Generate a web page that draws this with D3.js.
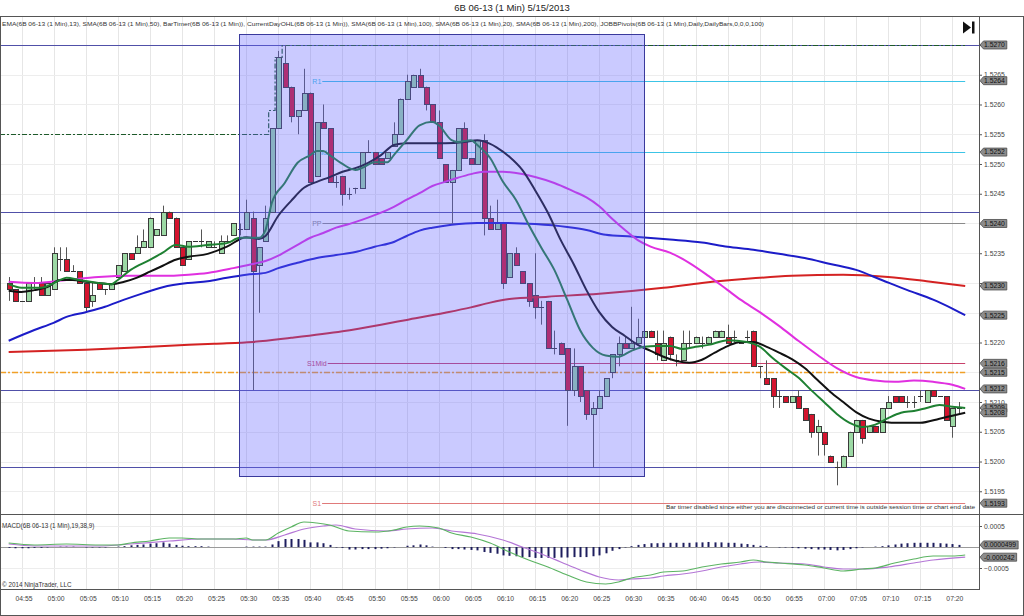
<!DOCTYPE html>
<html><head><meta charset="utf-8">
<script src="https://cdn.jsdelivr.net/npm/d3@7"></script>
<style>
body{margin:0;background:#fff}
svg{display:block}
text{font-family:"Liberation Sans",Arial,sans-serif}
</style>
</head><body>
<svg id="c" width="1024" height="616"></svg>
<script>
// ---------------- DATA ----------------
const chartTitle = "6B 06-13 (1 Min)  5/15/2013";
const indicatorLabel = "EMA(6B 06-13 (1 Min),13), SMA(6B 06-13 (1 Min),50), BarTimer(6B 06-13 (1 Min)), CurrentDayOHL(6B 06-13 (1 Min)), SMA(6B 06-13 (1 Min),100), SMA(6B 06-13 (1 Min),20), SMA(6B 06-13 (1 Min),200), JOBBPivots(6B 06-13 (1 Min),Daily,DailyBars,0,0,0,100)";
const macdLabel = "MACD(6B 06-13 (1 Min),19,38,9)";
const copyright = "\u00A9 2014 NinjaTrader, LLC";
const barTimerMsg = "Bar timer disabled since either you are disconnected or current time is outside session time or chart end date";

// minutes are counted from 04:55 (= 0)
const timeTickLabels = ["04:55","05:00","05:05","05:10","05:15","05:20","05:25","05:30","05:35","05:40","05:45","05:50","05:55","06:00","06:05","06:10","06:15","06:20","06:25","06:30","06:35","06:40","06:45","06:50","06:55","07:00","07:05","07:10","07:15","07:20"];
const timeTickMinutes = [0,5,10,15,20,25,30,35,40,45,50,55,60,65,70,75,80,85,90,95,100,105,110,115,120,125,130,135,140,145];
const priceTicks = [1.5270,1.5265,1.5260,1.5255,1.5250,1.5245,1.5240,1.5235,1.5230,1.5225,1.5220,1.5215,1.5210,1.5205,1.5200,1.5195];
const macdTicks = [0.0005,-0.0005];

const firstBarMinute = -2; // 04:53
const opens = [1.5230,1.5229,1.5227,1.5227,1.5230,1.5230,1.5228,1.5229,1.5234,1.5234,1.5232,1.5232,
1.5230,1.5227,1.5230,1.5229,1.5229,1.5231,1.5232,1.5235,1.5235,1.5236,
1.5236,1.5238,1.5238,1.5242,1.5241,1.5236,1.5234,1.5237,1.5237,1.5236,
1.5236,1.5235,1.5237,1.5238,1.5239,1.5239,1.5241,1.5233,1.5237,1.5242,
1.5256,1.5267,1.5263,1.5258,1.5259,1.5262,1.5248,1.5257,1.5256,1.5247,
1.5248,1.5245,1.5246,1.5246,1.5252,1.5252,1.5251,1.5251,1.5253,1.5255,
1.5261,1.5263,1.5265,1.5263,1.5260,1.5257,1.5250,1.5247,1.5249,1.5256,
1.5251,1.5250,1.5254,1.5241,1.5239,1.5240,1.5231,1.5235,1.5232,1.5230,
1.5228,1.5226,1.5227,1.5219,1.5220,1.5219,1.5212,1.5216,1.5212,1.5208,
1.5209,1.5211,1.5215,1.5218,1.5220,1.5219,1.5220,1.5221,1.5222,1.5220,
1.5217,1.5221,1.5217,1.5217,1.5220,1.5220,1.5220,1.5220,1.5221,1.5221,
1.5221,1.5221,1.5220,1.5221,1.5222,1.5216,1.5214,1.5214,1.5211,1.5211,
1.5210,1.5211,1.5209,1.5208,1.5205,1.5205,1.5201,1.5199,1.5199,1.5201,
1.5205,1.5207,1.5205,1.5206,1.5205,1.5209,1.5211,1.5211,1.5210,1.5210,
1.5211,1.5210,1.5212,1.5211,1.5211,1.5206,1.5209];
const highs = [1.5231,1.5229,1.5227,1.5230,1.5231,1.5231,1.5230,1.5236,1.5236,1.5236,1.5233,1.5232,
1.5230,1.5230,1.5230,1.5229,1.5230,1.5233,1.5235,1.5235,1.5238,1.5239,
1.5241,1.5239,1.5243,1.5242,1.5241,1.5236,1.5237,1.5237,1.5239,1.5237,
1.5237,1.5238,1.5238,1.5240,1.5240,1.5244,1.5242,1.5236,1.5243,1.5256,
1.5269,1.5270,1.5263,1.5259,1.5266,1.5262,1.5257,1.5260,1.5256,1.5248,
1.5248,1.5246,1.5246,1.5252,1.5254,1.5252,1.5251,1.5252,1.5257,1.5261,
1.5265,1.5265,1.5266,1.5263,1.5260,1.5259,1.5250,1.5249,1.5256,1.5257,
1.5251,1.5254,1.5255,1.5243,1.5244,1.5240,1.5235,1.5236,1.5232,1.5230,
1.5235,1.5227,1.5227,1.5222,1.5220,1.5219,1.5219,1.5216,1.5212,1.5210,
1.5212,1.5214,1.5218,1.5221,1.5221,1.5226,1.5224,1.5222,1.5222,1.5222,
1.5222,1.5221,1.5218,1.5222,1.5222,1.5221,1.5221,1.5221,1.5222,1.5222,
1.5223,1.5222,1.5220,1.5222,1.5222,1.5216,1.5217,1.5214,1.5212,1.5211,
1.5211,1.5212,1.5209,1.5208,1.5207,1.5205,1.5201,1.5200,1.5201,1.5205,
1.5207,1.5207,1.5206,1.5206,1.5209,1.5211,1.5211,1.5211,1.5211,1.5211,
1.5212,1.5212,1.5212,1.5211,1.5211,1.5209,1.5210];
const lows = [1.5227,1.5227,1.5227,1.5227,1.5229,1.5228,1.5228,1.5229,1.5232,1.5232,1.5232,1.5230,
1.5225,1.5226,1.5229,1.5228,1.5229,1.5231,1.5232,1.5234,1.5235,1.5236,
1.5236,1.5238,1.5238,1.5241,1.5236,1.5233,1.5234,1.5237,1.5236,1.5236,
1.5236,1.5235,1.5237,1.5238,1.5238,1.5239,1.5212,1.5225,1.5237,1.5242,
1.5256,1.5263,1.5257,1.5255,1.5259,1.5247,1.5248,1.5256,1.5247,1.5246,
1.5243,1.5244,1.5245,1.5246,1.5252,1.5250,1.5250,1.5251,1.5253,1.5255,
1.5261,1.5263,1.5263,1.5259,1.5257,1.5251,1.5247,1.5240,1.5249,1.5251,
1.5250,1.5250,1.5238,1.5239,1.5239,1.5229,1.5231,1.5233,1.5230,1.5226,
1.5224,1.5223,1.5219,1.5218,1.5218,1.5206,1.5211,1.5210,1.5207,1.5199,
1.5209,1.5211,1.5214,1.5216,1.5219,1.5219,1.5220,1.5221,1.5221,1.5217,
1.5217,1.5217,1.5216,1.5217,1.5219,1.5220,1.5219,1.5220,1.5221,1.5221,
1.5220,1.5220,1.5220,1.5220,1.5216,1.5214,1.5213,1.5209,1.5209,1.5210,
1.5210,1.5209,1.5207,1.5204,1.5201,1.5201,1.5200,1.5196,1.5199,1.5201,
1.5205,1.5203,1.5205,1.5205,1.5205,1.5209,1.5210,1.5210,1.5209,1.5209,
1.5210,1.5210,1.5211,1.5211,1.5207,1.5204,1.5208];
const closes = [1.5229,1.5227,1.5227,1.5230,1.5230,1.5228,1.5230,1.5235,1.5234,1.5232,1.5232,1.5230,
1.5226,1.5228,1.5229,1.5229,1.5230,1.5233,1.5235,1.5234,1.5236,1.5237,
1.5241,1.5239,1.5242,1.5241,1.5236,1.5233,1.5237,1.5237,1.5237,1.5237,
1.5236,1.5237,1.5237,1.5240,1.5239,1.5242,1.5232,1.5236,1.5241,1.5256,
1.5268,1.5263,1.5258,1.5259,1.5262,1.5247,1.5257,1.5256,1.5247,1.5247,
1.5245,1.5245,1.5246,1.5252,1.5252,1.5250,1.5250,1.5252,1.5255,1.5261,
1.5264,1.5265,1.5263,1.5260,1.5257,1.5251,1.5247,1.5249,1.5256,1.5251,
1.5250,1.5254,1.5241,1.5239,1.5240,1.5230,1.5235,1.5233,1.5230,1.5227,
1.5226,1.5226,1.5219,1.5219,1.5218,1.5212,1.5216,1.5211,1.5208,1.5209,
1.5211,1.5214,1.5218,1.5220,1.5219,1.5220,1.5221,1.5222,1.5221,1.5218,
1.5220,1.5218,1.5217,1.5220,1.5220,1.5221,1.5220,1.5221,1.5222,1.5222,
1.5220,1.5221,1.5220,1.5221,1.5216,1.5216,1.5213,1.5211,1.5211,1.5210,
1.5211,1.5209,1.5207,1.5205,1.5206,1.5203,1.5200,1.5199,1.5201,1.5205,
1.5207,1.5204,1.5206,1.5205,1.5209,1.5210,1.5210,1.5210,1.5210,1.5210,
1.5211,1.5212,1.5211,1.5211,1.5207,1.5209,1.5209];

// moving averages (minute, value)
const ema13Min = [-2,0,3,6,7,9,12,14,15,17,20,22,24,26,29,32,34,37,38,39,41,43,45,46,47,48,50,52,53,55,57,58,60,62,64,65,67,68,70,71,73,75,77,79,81,83,85,87,89,91,93,95,97,99,101,103,105,107,110,113,115,117,119,121,123,125,127,129,131,133,135,137,139,141,143,145,147];
const ema13Val = [1.52298,1.52292,1.52292,1.52305,1.52309,1.52305,1.52300,1.52298,1.52305,1.52322,1.52339,1.52351,1.52364,1.52361,1.52364,1.52367,1.52376,1.52376,1.52389,1.52435,1.52468,1.52502,1.52515,1.52522,1.52522,1.52515,1.52500,1.52490,1.52493,1.52503,1.52503,1.52515,1.52540,1.52565,1.52571,1.52565,1.52540,1.52537,1.52540,1.52532,1.52510,1.52470,1.52440,1.52398,1.52359,1.52322,1.52272,1.52221,1.52191,1.52178,1.52176,1.52186,1.52193,1.52194,1.52194,1.52189,1.52193,1.52196,1.52204,1.52201,1.52193,1.52174,1.52157,1.52141,1.52120,1.52100,1.52080,1.52065,1.52058,1.52062,1.52073,1.52082,1.52085,1.52090,1.52095,1.52092,1.52090];
const sma20Min = [-2,0,2,4,6,8,10,12,14,16,18,20,22,24,26,29,32,35,37,38,40,42,44,46,48,50,52,54,56,58,60,63,66,69,71,72,74,76,78,80,82,84,86,88,90,92,94,96,98,100,102,104,106,108,110,112,114,116,118,120,122,124,126,128,130,132,134,137,140,143,145,147];
const sma20Val = [1.52287,1.52285,1.52288,1.52293,1.52305,1.52305,1.52302,1.52300,1.52298,1.52302,1.52309,1.52319,1.52329,1.52339,1.52344,1.52349,1.52361,1.52377,1.52374,1.52379,1.52413,1.52438,1.52460,1.52470,1.52478,1.52487,1.52493,1.52502,1.52515,1.52532,1.52535,1.52535,1.52535,1.52537,1.52540,1.52538,1.52528,1.52512,1.52490,1.52456,1.52418,1.52372,1.52332,1.52288,1.52251,1.52226,1.52211,1.52196,1.52186,1.52176,1.52169,1.52166,1.52171,1.52183,1.52194,1.52201,1.52201,1.52193,1.52183,1.52172,1.52157,1.52137,1.52117,1.52100,1.52083,1.52072,1.52067,1.52065,1.52065,1.52072,1.52077,1.52082];
const sma50Min = [-2,2,7,12,17,22,26,29,33,36,38,40,41,43,45,47,49,51,53,55,58,60,62,64,66,68,70,72,75,78,80,83,86,88,90,92,94,96,98,101,104,107,110,112,115,118,121,124,127,130,133,136,139,142,145,147];
const sma50Val = [1.52302,1.52300,1.52305,1.52310,1.52312,1.52312,1.52314,1.52317,1.52325,1.52332,1.52337,1.52346,1.52352,1.52364,1.52376,1.52384,1.52393,1.52399,1.52406,1.52414,1.52428,1.52440,1.52451,1.52463,1.52470,1.52477,1.52483,1.52487,1.52487,1.52483,1.52478,1.52468,1.52454,1.52444,1.52429,1.52408,1.52389,1.52372,1.52361,1.52351,1.52334,1.52312,1.52288,1.52272,1.52251,1.52228,1.52203,1.52179,1.52157,1.52142,1.52136,1.52134,1.52136,1.52134,1.52129,1.52122];
const sma100Min = [-2,2,5,7,10,13,16,19,22,26,29,32,35,38,40,43,46,49,52,55,58,60,62,64,67,71,75,80,85,88,91,95,101,106,110,114,118,122,126,130,134,138,142,145,147];
const sma100Val = [1.52203,1.52221,1.52233,1.52243,1.52251,1.52260,1.52272,1.52283,1.52293,1.52300,1.52303,1.52309,1.52314,1.52317,1.52325,1.52334,1.52342,1.52347,1.52352,1.52361,1.52369,1.52379,1.52388,1.52393,1.52398,1.52401,1.52401,1.52399,1.52394,1.52389,1.52381,1.52378,1.52373,1.52368,1.52361,1.52356,1.52349,1.52342,1.52332,1.52322,1.52305,1.52288,1.52272,1.52257,1.52246];
const sma200Min = [-2,10,20,30,36,42,50,56,60,66,70,73,76,82,90,100,106,113,120,128,135,141,147];
const sma200Val = [1.52184,1.52188,1.52193,1.52198,1.52201,1.52208,1.52219,1.52230,1.52238,1.52250,1.52259,1.52267,1.52273,1.52277,1.52282,1.52292,1.52300,1.52307,1.52312,1.52314,1.52310,1.52303,1.52295];

// MACD panel
const macdMin = [-2,2,7,12,15,17,20,23,25,28,33,35,36,38,40,42,44,46,48,51,55,58,60,62,65,67,70,73,76,79,82,85,88,91,93,95,98,100,103,106,109,112,114,116,118,122,125,128,131,133,136,139,142,145,147];
const macdVal = [0.000095,0.000048,0.000071,0.000048,0.000048,0.000095,0.000143,0.000214,0.000214,0.00019,0.00019,0.000214,0.000167,0.000167,0.000333,0.000476,0.000595,0.000571,0.000524,0.000381,0.000357,0.000405,0.000476,0.0005,0.000452,0.000333,0.000238,0.000095,-0.000119,-0.00031,-0.000476,-0.000667,-0.000833,-0.000881,-0.000833,-0.000738,-0.000667,-0.000595,-0.000571,-0.000476,-0.000405,-0.000357,-0.00031,-0.000357,-0.000381,-0.000429,-0.0005,-0.000571,-0.000524,-0.0005,-0.000381,-0.000286,-0.000214,-0.000214,-0.00019];
const avgMin = [-2,2,12,17,23,28,33,36,38,41,44,47,49,52,57,60,64,67,71,75,78,81,84,87,90,93,95,98,100,103,106,109,112,115,118,122,125,128,131,135,139,142,147];
const avgVal = [0.000071,0.000024,0.000024,0.000071,0.000143,0.00019,0.00019,0.000167,0.000167,0.000286,0.000429,0.0005,0.000524,0.000429,0.000381,0.000429,0.000452,0.000381,0.00031,0.000167,0,-0.000167,-0.000357,-0.000548,-0.000714,-0.000786,-0.000762,-0.000738,-0.00069,-0.000643,-0.000571,-0.000476,-0.000405,-0.000357,-0.000381,-0.000405,-0.000476,-0.000524,-0.000524,-0.000476,-0.000381,-0.00031,-0.000242];
const histVal = [-0.00002,-0.00003,-0.00003,-0.00003,-0.00002,-0.00002,-0.00001,0,0.00001,0.00001,0.00001,0,
-0.00001,-0.00001,-0.00001,-0.00001,0,0.00001,0.00002,0.00004,0.00005,0.00006,
0.00008,0.00009,0.00011,0.00008,0.00005,0.00003,0.00002,0.00002,0.00002,0.00001,
0,0,0,0,0,0.00001,0.00001,0.00001,0.00001,0.00006,
0.00014,0.00019,0.00019,0.00019,0.00017,0.00011,0.00011,0.00009,0.00005,-0.00001,
-0.00002,-0.00006,-0.00006,-0.00005,-0.00005,-0.00005,-0.00004,-0.00003,-0.00001,0,
0.00003,0.00004,0.00006,0.00004,0.00001,0,-0.00002,-0.00005,-0.00005,-0.00006,
-0.00007,-0.00008,-0.00012,-0.00014,-0.00016,-0.0002,-0.00021,-0.00022,-0.00024,-0.00024,
-0.00026,-0.00026,-0.00026,-0.00026,-0.00025,-0.00025,-0.00024,-0.00024,-0.00024,-0.00022,
-0.0002,-0.00015,-0.00009,-0.00005,-0.00001,0.00002,0.00005,0.00007,0.00009,0.00009,
0.0001,0.0001,0.0001,0.0001,0.0001,0.00011,0.00011,0.00012,0.00011,0.00011,
0.0001,0.0001,0.00008,0.00007,0.00005,0.00003,0.00002,0,-0.00001,-0.00001,
-0.00002,-0.00003,-0.00004,-0.00005,-0.00006,-0.00006,-0.00007,-0.00008,-0.00007,-0.00005,
-0.00003,-0.00001,0,0.00001,0.00002,0.00004,0.00006,0.00008,0.00009,0.0001,
0.0001,0.0001,0.0001,0.00009,0.00008,0.00007,0.00005];
const macdBoxValues = [0.0000499,-0.000242];
const macdBoxLabels = ["0.0000499","-0.000242"];

// pivots & levels
const pivotNames = ["R1","R1Mid","PP","S1Mid","S1"];
const pivotValues = [1.5264,1.5252,1.5240,1.52165,1.5193];
const pivotStartMin = 46, levelEndMin = 147;
const dayOpen = 1.5215;
const highStepMin = [38.5,38.5,39.5,39.5,40.6,40.6,147];
const highStepVal = [1.5255,1.5259,1.5259,1.5268,1.5268,1.5270,1.5270];
const highStartVal = 1.5255;
const hLines = [1.5270,1.5242,1.5212,1.51990];
const boxRegion = {startMin:33.9, endMin:97.0, top:1.52719, bottom:1.51976};

// ---------------- DRAWING ----------------
const svg = d3.select("#c");
const PR = 979, PT = 16, PB = 514, MT = 515, MB = 589;
const x = d3.scaleLinear().domain([-3.35, 149.15]).range([0, PR]);
const y = d3.scaleLinear().domain([1.519118, 1.527487]).range([PB, PT]);
const yM = d3.scaleLinear().domain([-0.001, 0.000762]).range([MB, MT]);
const px = v => Math.round(v) + 0.5;

const defs = svg.append("defs");
defs.append("clipPath").attr("id","cp").append("rect").attr("x",0).attr("y",PT).attr("width",PR).attr("height",PB-PT);
defs.append("clipPath").attr("id","cm").append("rect").attr("x",0).attr("y",MT).attr("width",PR).attr("height",MB-MT);

svg.append("rect").attr("width",1024).attr("height",616).attr("fill","#fff");

// title
svg.append("text").attr("x",512).attr("y",11).attr("text-anchor","middle")
  .attr("font-size",9.5).attr("fill","#222").text(chartTitle);

// grid
const grid = svg.append("g");
timeTickMinutes.forEach(m => {
  grid.append("line").attr("x1",px(x(m))).attr("x2",px(x(m))).attr("y1",PT).attr("y2",MB)
    .attr("stroke","#e6e6e6").attr("stroke-width",1);
});
priceTicks.forEach(p => {
  grid.append("line").attr("x1",0).attr("x2",PR).attr("y1",px(y(p))).attr("y2",px(y(p)))
    .attr("stroke","#ededed").attr("stroke-width",1);
});
macdTicks.forEach(v => {
  grid.append("line").attr("x1",0).attr("x2",PR).attr("y1",px(yM(v))).attr("y2",px(yM(v)))
    .attr("stroke","#ededed");
});

// price panel
const gp = svg.append("g").attr("clip-path","url(#cp)");

hLines.forEach(v => {
  gp.append("line").attr("x1",0).attr("x2",PR).attr("y1",px(y(v))).attr("y2",px(y(v)))
    .attr("stroke","#5050a8").attr("stroke-width",1);
});

// pivots
const pivotColors = {"R1":"#3cc4e6","R1Mid":"#3cc4e6","PP":"#8a8a8a","S1Mid":"#c8406a","S1":"#e07a7a"};
pivotNames.forEach((n,i) => {
  const yy = px(y(pivotValues[i]));
  const t = gp.append("text").attr("x",x(pivotStartMin)).attr("y",yy+2.5).attr("text-anchor","middle")
    .attr("font-size",7).attr("fill",pivotColors[n]).text(n);
  const w = t.node().getComputedTextLength();
  gp.append("line").attr("x1",x(pivotStartMin)+w/2+1).attr("x2",x(levelEndMin)).attr("y1",yy).attr("y2",yy)
    .attr("stroke",pivotColors[n]).attr("stroke-width",1);
});

// current day open / high
gp.append("line").attr("x1",0).attr("x2",x(levelEndMin)).attr("y1",px(y(dayOpen))).attr("y2",px(y(dayOpen)))
  .attr("stroke","#f0a028").attr("stroke-width",1.5).attr("stroke-dasharray","6,2,2,2");
const hiPts = [[x.domain()[0], highStartVal]].concat(highStepMin.map((m,i)=>[m, highStepVal[i]]));
gp.append("path").attr("d", d3.line().x(d=>x(d[0])).y(d=>px(y(d[1])))(hiPts))
  .attr("fill","none").attr("stroke","#1d5a2a").attr("stroke-width",1.2).attr("stroke-dasharray","5,2,2,2");

// candles
const bars = opens.map((o,k)=>({m:firstBarMinute+k, o, h:highs[k], l:lows[k], c:closes[k]}));
const gc = gp.append("g");
bars.forEach(b => {
  const cx = Math.round(x(b.m));
  gc.append("line").attr("x1",cx+0.5).attr("x2",cx+0.5).attr("y1",y(b.h)).attr("y2",y(b.l))
    .attr("stroke","#555").attr("stroke-width",1);
  if (b.o === b.c) {
    gc.append("line").attr("x1",cx-2).attr("x2",cx+3).attr("y1",px(y(b.o))).attr("y2",px(y(b.o)))
      .attr("stroke","#333").attr("stroke-width",1);
  } else {
    const yt = Math.round(y(Math.max(b.o,b.c))), yb = Math.round(y(Math.min(b.o,b.c)));
    gc.append("rect").attr("x",cx-2+0.5).attr("y",yt+0.5).attr("width",5).attr("height",Math.max(1,yb-yt))
      .attr("fill", b.c > b.o ? "#9cd9a4" : "#d4142e").attr("stroke","#3a3a3a").attr("stroke-width",1);
  }
});

// moving averages
const maLine = d3.line().curve(d3.curveMonotoneX).x(d=>x(d[0])).y(d=>y(d[1]));
const maDefs = [
  [sma200Min, sma200Val, "#d42222"],
  [sma100Min, sma100Val, "#1c1cc8"],
  [sma50Min, sma50Val, "#e030e0"],
  [sma20Min, sma20Val, "#111111"],
  [ema13Min, ema13Val, "#1e8032"]
];
maDefs.forEach(([ms, vs, col]) => {
  gp.append("path").attr("d", maLine(ms.map((m,i)=>[m, vs[i]])))
    .attr("fill","none").attr("stroke",col).attr("stroke-width",2).attr("stroke-linejoin","round");
});

// highlighted region overlay
gp.append("rect")
  .attr("x", px(x(boxRegion.startMin))).attr("y", px(y(boxRegion.top)))
  .attr("width", Math.round(x(boxRegion.endMin)-x(boxRegion.startMin)))
  .attr("height", Math.round(y(boxRegion.bottom)-y(boxRegion.top)))
  .attr("fill","rgb(100,100,255)").attr("fill-opacity",0.34)
  .attr("stroke","#3a3a9c").attr("stroke-width",1);

// indicator label, bar timer text
svg.append("text").attr("x",2).attr("y",26).attr("font-size",6).attr("fill","#333")
  .attr("textLength",762).attr("lengthAdjust","spacingAndGlyphs").text(indicatorLabel);
svg.append("text").attr("x",975).attr("y",509).attr("text-anchor","end").attr("font-size",6).attr("fill","#333")
  .attr("textLength",309).attr("lengthAdjust","spacingAndGlyphs").text(barTimerMsg);

// go-to-end icon
svg.append("path").attr("d","M963,21.5 L971,27.5 L963,33.5 Z").attr("fill","#111");
svg.append("rect").attr("x",972).attr("y",21.5).attr("width",2.5).attr("height",12).attr("fill","#111");

// MACD panel
const gm = svg.append("g").attr("clip-path","url(#cm)");
gm.append("line").attr("x1",0).attr("x2",PR).attr("y1",px(yM(0))).attr("y2",px(yM(0)))
  .attr("stroke","#9a9a9a").attr("stroke-width",1);
histVal.forEach((v,k) => {
  if (v === 0) return;
  const cx = Math.round(x(firstBarMinute+k));
  gm.append("line").attr("x1",cx+0.5).attr("x2",cx+0.5).attr("y1",yM(0)).attr("y2",yM(v))
    .attr("stroke","#1e1e5e").attr("stroke-width",2);
});
const mLine = d3.line().curve(d3.curveMonotoneX).x(d=>x(d[0])).y(d=>yM(d[1]));
gm.append("path").attr("d", mLine(avgMin.map((m,i)=>[m, avgVal[i]])))
  .attr("fill","none").attr("stroke","#b476d6").attr("stroke-width",1.2);
gm.append("path").attr("d", mLine(macdMin.map((m,i)=>[m, macdVal[i]])))
  .attr("fill","none").attr("stroke","#5cb463").attr("stroke-width",1.2);

svg.append("text").attr("x",2).attr("y",528).attr("font-size",6.3).attr("fill","#333").text(macdLabel);
svg.append("text").attr("x",2).attr("y",587).attr("font-size",6.3).attr("fill","#333").text(copyright);

// frame lines
const frame = svg.append("g").attr("stroke","#555").attr("stroke-width",1);
frame.append("line").attr("x1",0).attr("x2",1024).attr("y1",16.5).attr("y2",16.5);
frame.append("line").attr("x1",0).attr("x2",1024).attr("y1",514.5).attr("y2",514.5);
frame.append("line").attr("x1",0).attr("x2",PR).attr("y1",589.5).attr("y2",589.5);
frame.append("line").attr("x1",PR+0.5).attr("x2",PR+0.5).attr("y1",16).attr("y2",590);
frame.append("line").attr("x1",0.5).attr("x2",0.5).attr("y1",16).attr("y2",616);
frame.append("line").attr("x1",1023.5).attr("x2",1023.5).attr("y1",16).attr("y2",616);
frame.append("line").attr("x1",0).attr("x2",1024).attr("y1",615.5).attr("y2",615.5);

// value markers (values used to hide fully covered tick labels)
const markerVals = [
  hLines[0], pivotValues[0], pivotValues[1], pivotValues[2],
  sma200Val[sma200Val.length-1], sma100Val[sma100Val.length-1],
  pivotValues[3], dayOpen, sma50Val[sma50Val.length-1],
  ema13Val[ema13Val.length-1], sma20Val[sma20Val.length-1], pivotValues[4]
];
const markerYs = markerVals.map(v => y(v));

// price axis
const ay = svg.append("g").attr("transform",`translate(${PR},0)`)
  .call(d3.axisRight(y).tickValues(priceTicks).tickFormat(d3.format(".4f")).tickSize(3).tickPadding(2));
ay.select(".domain").remove();
ay.selectAll("line").attr("stroke","#555");
ay.selectAll("text").attr("font-size",6.8).attr("fill","#444").attr("font-family","Liberation Sans, Arial, sans-serif");
ay.selectAll(".tick").filter(d => markerYs.some(my => Math.abs(my - y(d)) < 4.5)).select("text").remove();

// macd axis
const am = svg.append("g").attr("transform",`translate(${PR},0)`)
  .call(d3.axisRight(yM).tickValues(macdTicks).tickFormat(d3.format(".4f")).tickSize(3).tickPadding(2));
am.select(".domain").remove();
am.selectAll("line").attr("stroke","#555");
am.selectAll("text").attr("font-size",6.8).attr("fill","#444").attr("font-family","Liberation Sans, Arial, sans-serif");

// time axis
const ax = svg.append("g").attr("transform",`translate(2,${MB})`)
  .call(d3.axisBottom(x).tickValues(timeTickMinutes).tickFormat((d,i)=>timeTickLabels[i]).tickSize(0).tickPadding(7));
ax.select(".domain").remove();
ax.selectAll("text").attr("font-size",6.8).attr("fill","#444").attr("font-family","Liberation Sans, Arial, sans-serif");

// value markers on the right axis
function marker(yy, label){
  const g = svg.append("g");
  const t = g.append("text").attr("x",984).attr("y",yy+2.4).attr("font-size",6.8).attr("fill","#111").text(label);
  const w = t.node().getComputedTextLength();
  g.insert("path","text").attr("d",`M${PR+1},${yy} L${PR+4.5},${yy-4} L${984+w+2},${yy-4} L${984+w+2},${yy+4} L${PR+4.5},${yy+4} Z`)
    .attr("fill","#8c8c8c").attr("stroke","#4a4a4a").attr("stroke-width",0.8);
}
const fmt4 = d3.format(".4f");
markerVals.forEach(v => marker(y(v), fmt4(v)));
macdBoxValues.forEach((v,i) => marker(yM(v), macdBoxLabels[i]));
</script>
</body></html>
